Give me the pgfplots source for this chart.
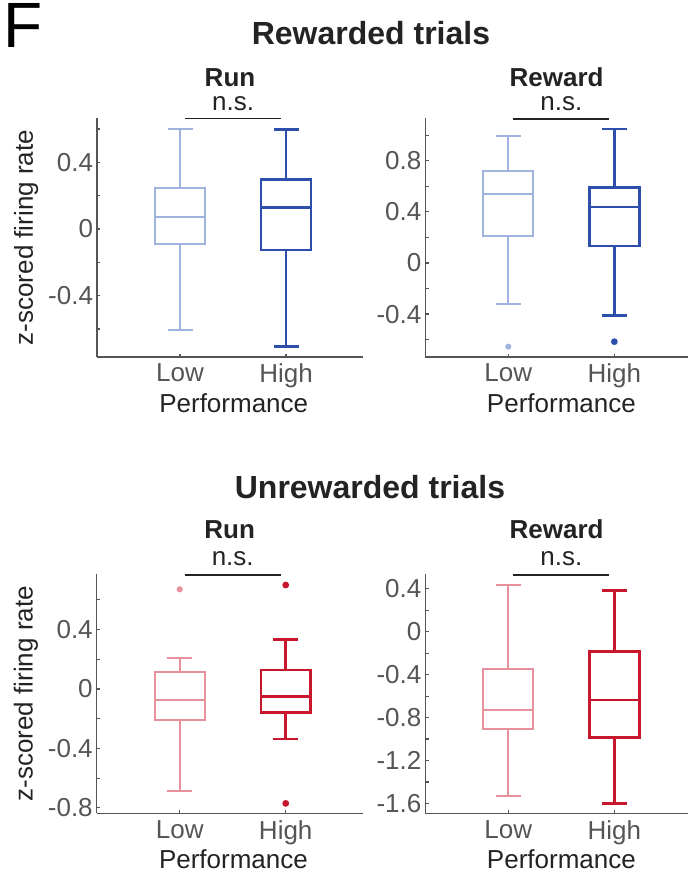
\documentclass[border=0pt]{standalone}
\usepackage{pgfplots}
\pgfplotsset{compat=1.18}
\usepgfplotslibrary{statistics}
\usepackage{fontspec}
\setmainfont{Liberation Sans}
\definecolor{axgray}{RGB}{85,85,85}
\definecolor{txtdark}{RGB}{35,35,35}
\definecolor{lightblue}{RGB}{160,178,222}
\definecolor{darkblue}{RGB}{45,78,170}
\definecolor{lightred}{RGB}{230,145,155}
\definecolor{darkred}{RGB}{200,22,45}
\newcommand{\lblfont}{\fontsize{13}{15}\selectfont}
\pgfplotsset{
  fpanel/.style={
    scale only axis,
    anchor=south west,
    axis lines=left,
    axis line style={-, draw=axgray, line width=0.7pt},
    tick align=inside,
    major tick length=1.7pt, minor tick length=1.7pt,
    tick style={draw=axgray, line width=0.6pt},
    xtick={1,2}, xticklabels={Low,High},
    ticklabel style={font=\lblfont, text=axgray},
    yticklabel style={inner xsep=1.8pt},
    xmin=0.217,
    clip=false,
    boxplot/draw direction=y,
    boxplot/box extend=0.47,
    boxplot/whisker extend=0.236,
    xlabel={Performance},
    xlabel style={font=\lblfont, text=txtdark, at={(axis description cs:0.514,0)}, anchor=base, yshift=-27.5pt},
    ylabel style={font=\lblfont, text=txtdark, at={(axis description cs:-0.2406,0.5)}, anchor=base},
  },
  lbox/.style={line width=1pt, fill=white, mark=*, mark size=1pt},
  hbox/.style={line width=1.3pt, fill=white, mark=*, mark size=1pt},
}
\begin{document}
\begin{tikzpicture}
% F and group titles
\node[anchor=base west, inner sep=0pt, font=\fontsize{32}{36}\selectfont, text=black] at (1.5pt,-24pt) {F};
\node[anchor=base, inner sep=0pt, font=\bfseries\fontsize{16}{19}\selectfont, text=txtdark] at (185.5pt,-22.5pt) {Rewarded trials};
\node[anchor=base, inner sep=0pt, font=\bfseries\fontsize{16}{19}\selectfont, text=txtdark] at (185pt,-249pt) {Unrewarded trials};

% Panel 1: Rewarded, Run
\begin{axis}[fpanel, at={(48.5pt,-178.5pt)}, width=133pt, height=119.5pt,
  xmax=2.726, ymin=-0.768, ymax=0.666,
  ytick={-0.4,0,0.4}, yticklabels={-0.4,0,0.4},
  minor ytick={-0.6,-0.2,0.2,0.6},
  ylabel={z-scored firing rate}]
\addplot[lbox, draw=lightblue, mark options={fill=lightblue, draw=lightblue},
  boxplot prepared={draw position=1, lower whisker=-0.604, lower quartile=-0.092, median=0.07, upper quartile=0.248, upper whisker=0.60}] coordinates {};
\addplot[hbox, draw=darkblue, mark options={fill=darkblue, draw=darkblue},
  boxplot prepared={draw position=2, lower whisker=-0.706, lower quartile=-0.126, median=0.13, upper quartile=0.298, upper whisker=0.596}] coordinates {};
\draw[txtdark, line width=0.7pt] (axis cs:1.047,0.662) -- (axis cs:1.953,0.662);
\node[anchor=base, font=\lblfont, text=txtdark, yshift=4pt] at (axis cs:1.5,0.662) {n.s.};
\node[anchor=base, font=\bfseries\lblfont, text=txtdark, yshift=16pt] at (rel axis cs:0.5,1) {Run};
\end{axis}

% Panel 2: Rewarded, Reward
\begin{axis}[fpanel, at={(212.65pt,-178.5pt)}, width=131.35pt, height=119.5pt,
  xmax=2.695, ymin=-0.736, ymax=1.135,
  ytick={-0.4,0,0.4,0.8}, yticklabels={-0.4,0,0.4,0.8},
  minor ytick={-0.6,-0.2,0.2,0.6,1.0},
  xlabel style={at={(axis description cs:0.518,0)}}]
\addplot[lbox, draw=lightblue, mark options={fill=lightblue, draw=lightblue},
  boxplot prepared={draw position=1, lower whisker=-0.323, lower quartile=0.211, median=0.54, upper quartile=0.72, upper whisker=0.994}]
  table[row sep=\\, y index=0] {data\\ -0.655\\};
\addplot[hbox, draw=darkblue, mark options={fill=darkblue, draw=darkblue},
  boxplot prepared={draw position=2, lower whisker=-0.412, lower quartile=0.133, median=0.438, upper quartile=0.59, upper whisker=1.05}]
  table[row sep=\\, y index=0] {data\\ -0.616\\};
\draw[txtdark, line width=0.7pt] (axis cs:1.044,1.128) -- (axis cs:1.95,1.128);
\node[anchor=base, font=\lblfont, text=txtdark, yshift=4pt] at (axis cs:1.5,1.128) {n.s.};
\node[anchor=base, font=\bfseries\lblfont, text=txtdark, yshift=16pt] at (rel axis cs:0.5,1) {Reward};
\end{axis}

% Panel 3: Unrewarded, Run
\begin{axis}[fpanel, at={(48.35pt,-406.65pt)}, width=133pt, height=119.65pt,
  xmax=2.726, ymin=-0.837, ymax=0.774,
  ytick={-0.8,-0.4,0,0.4}, yticklabels={-0.8,-0.4,0,0.4},
  minor ytick={-0.6,-0.2,0.2,0.6},
  ylabel={z-scored firing rate}]
\addplot[lbox, draw=lightred, mark options={fill=lightred, draw=lightred},
  boxplot prepared={draw position=1, lower whisker=-0.687, lower quartile=-0.209, median=-0.074, upper quartile=0.117, upper whisker=0.209}]
  table[row sep=\\, y index=0] {data\\ 0.671\\};
\addplot[hbox, draw=darkred, mark options={fill=darkred, draw=darkred},
  boxplot prepared={draw position=2, lower whisker=-0.337, lower quartile=-0.157, median=-0.052, upper quartile=0.128, upper whisker=0.335}]
  table[row sep=\\, y index=0] {data\\ 0.700\\ -0.770\\};
\draw[txtdark, line width=0.7pt] (axis cs:1.047,0.768) -- (axis cs:1.953,0.768);
\node[anchor=base, font=\lblfont, text=txtdark, yshift=4.5pt] at (axis cs:1.5,0.768) {n.s.};
\node[anchor=base, font=\bfseries\lblfont, text=txtdark, yshift=18pt] at (rel axis cs:0.5,1) {Run};
\end{axis}

% Panel 4: Unrewarded, Reward
\begin{axis}[fpanel, at={(212.65pt,-406.65pt)}, width=131.35pt, height=119.65pt,
  xmax=2.695, ymin=-1.692, ymax=0.538,
  ytick={-1.6,-1.2,-0.8,-0.4,0,0.4}, yticklabels={-1.6,-1.2,-0.8,-0.4,0,0.4},
  minor ytick={-1.4,-1.0,-0.6,-0.2,0.2},
  xlabel style={at={(axis description cs:0.518,0)}}]
\addplot[lbox, draw=lightred, mark options={fill=lightred, draw=lightred},
  boxplot prepared={draw position=1, lower whisker=-1.531, lower quartile=-0.91, median=-0.73, upper quartile=-0.348, upper whisker=0.435}] coordinates {};
\addplot[hbox, draw=darkred, mark options={fill=darkred, draw=darkred},
  boxplot prepared={draw position=2, lower whisker=-1.6, lower quartile=-0.988, median=-0.637, upper quartile=-0.186, upper whisker=0.382}] coordinates {};
\draw[txtdark, line width=0.7pt] (axis cs:1.044,0.530) -- (axis cs:1.95,0.530);
\node[anchor=base, font=\lblfont, text=txtdark, yshift=4.5pt] at (axis cs:1.5,0.530) {n.s.};
\node[anchor=base, font=\bfseries\lblfont, text=txtdark, yshift=18pt] at (rel axis cs:0.5,1) {Reward};
\end{axis}

\pgfresetboundingbox
\path (0pt,0pt) rectangle (344.5pt,-436pt);
\end{tikzpicture}
\end{document}
